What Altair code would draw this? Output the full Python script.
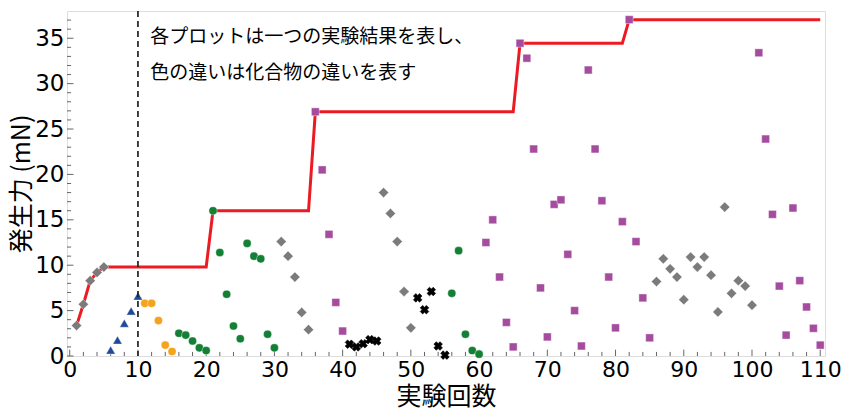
import altair as alt
import pandas as pd

# ---- data ----
gray_x = [1, 2, 3, 4, 5, 31, 32, 33, 34, 35, 46, 47, 48, 49, 50,
          86, 87, 88, 89, 90, 91, 92, 93, 94, 95, 96, 97, 98, 99, 100]
gray_y = [3.35, 5.7, 8.3, 9.2, 9.8, 12.6, 11.0, 8.7, 4.8, 2.9, 18.0, 15.7, 12.6, 7.1, 3.1,
          8.2, 10.7, 9.6, 8.7, 6.2, 10.9, 9.8, 10.9, 8.9, 4.85, 16.4, 6.9, 8.3, 7.7, 5.6]

blue_x = [6, 7, 8, 9, 10]
blue_y = [0.65, 1.75, 3.6, 4.95, 6.6]

orange_x = [11, 12, 13, 14, 15]
orange_y = [5.8, 5.8, 3.9, 1.2, 0.5]

green_x = [16, 17, 18, 19, 20, 21, 22, 23, 24, 25, 26, 27, 28, 29, 30,
           56, 57, 58, 59, 60]
green_y = [2.5, 2.3, 1.65, 0.9, 0.6, 16.0, 11.4, 6.8, 3.3, 1.9, 12.4, 11.0, 10.7, 2.4, 0.9,
           6.9, 11.6, 2.4, 0.6, 0.2]

purple_x = [36, 37, 38, 39, 40,
            61, 62, 63, 64, 65, 66, 67, 68, 69, 70, 71, 72, 73, 74, 75,
            76, 77, 78, 79, 80, 81, 82, 83, 84, 85,
            101, 102, 103, 104, 105, 106, 107, 108, 109, 110]
purple_y = [26.9, 20.5, 13.4, 5.9, 2.75,
            12.5, 15.0, 8.7, 3.7, 1.0, 34.45, 32.8, 22.8, 7.5, 2.1, 16.7, 17.2, 11.2, 5.0, 1.1,
            31.5, 22.8, 17.1, 8.7, 3.1, 14.8, 37.05, 12.6, 6.4, 2.0,
            33.4, 23.9, 15.6, 7.7, 2.3, 16.3, 8.3, 5.4, 3.05, 1.2]

black_x = [41, 42, 43, 44, 45, 51, 52, 53, 54, 55]
black_y = [1.3, 1.0, 1.35, 1.8, 1.65, 6.4, 5.1, 7.1, 1.1, 0.1]

divider_x = 10
note_lines = ["各プロットは一つの実験結果を表し、", "色の違いは化合物の違いを表す"]
note_x = [11.8, 11.8]
note_y = [35.1, 31.2]

x_ticks = list(range(0, 111, 2))
y_ticks = list(range(0, 38, 1))
x_labels = list(range(0, 111, 10))
y_labels = list(range(0, 36, 5))

XMIN, XMAX = -0.4, 110.7
YMIN, YMAX = 0, 38

# ---- tables ----
series = [
    ("gray", gray_x, gray_y, "#7b7b7b", "diamond", 105, 0),
    ("blue", blue_x, blue_y, "#1f4a9c", "triangle-up", 85, 0),
    ("orange", orange_x, orange_y, "#f5a31c", "circle", 66, 0),
    ("green", green_x, green_y, "#138036", "circle", 66, 0),
    ("purple", purple_x, purple_y, "#a54c9f", "square", 62, 0),
    ("black", black_x, black_y, "#000000", "cross", 75, 45),
]
rows = []
for name, xs_, ys_, *_ in series:
    for a, b in zip(xs_, ys_):
        rows.append({"x": a, "y": b, "series": name})
df = pd.DataFrame(rows)

xs = alt.Scale(domain=[XMIN, XMAX], nice=False, zero=False)
ys = alt.Scale(domain=[YMIN, YMAX], nice=False, zero=False)

label_font = "DejaVu Sans"
cjk_font = "Noto Sans CJK JP"

x_axis = alt.Axis(title="実験回数", values=x_labels, labelPadding=3, titlePadding=4,
                  labelFontSize=22)
y_axis = alt.Axis(title="発生力 (mN)", values=y_labels, labelPadding=3, titlePadding=0,
                  labelFontSize=23)


def X(field):
    return alt.X(field, scale=xs, axis=x_axis)


def Y(field):
    return alt.Y(field, scale=ys, axis=y_axis)


# inward ticks
xt = pd.DataFrame({"t": x_ticks})
xt["y0"] = 0.0
xt["y1"] = [0.7 if t % 10 == 0 else 0.45 for t in x_ticks]
yt = pd.DataFrame({"t": y_ticks})
yt["x0"] = XMIN
yt["x1"] = [XMIN + (0.95 if t % 5 == 0 else 0.6) for t in y_ticks]

xtick_layer = alt.Chart(xt).mark_rule(color="#666666", strokeWidth=1).encode(
    x=X("t:Q"), y=Y("y0:Q"), y2="y1:Q")
ytick_layer = alt.Chart(yt).mark_rule(color="#666666", strokeWidth=1).encode(
    y=Y("t:Q"), x=X("x0:Q"), x2="x1:Q")

# running maximum line
line_layer = alt.Chart(df).transform_window(
    run="max(y)", sort=[alt.SortField("x")], frame=[None, 0]
).mark_line(color="#ec1a22", strokeWidth=3).encode(
    x=X("x:Q"), y=Y("run:Q"), order="x:Q",
)

point_layers = []
for name, _, _, color, shape, size, ang in series:
    kw = dict(shape=shape, size=size, filled=True, color=color, opacity=1,
              stroke="white", strokeWidth=0.4)
    if ang:
        kw["angle"] = ang
        kw["stroke"] = color
        kw["strokeWidth"] = 0.6
    point_layers.append(
        alt.Chart(df).transform_filter(alt.datum.series == name).mark_point(**kw).encode(
            x=X("x:Q"), y=Y("y:Q"),
        )
    )

div_df = pd.DataFrame({"x": [divider_x]})
divider = alt.Chart(div_df).mark_rule(color="#222222", strokeWidth=1.7,
                                      strokeDash=[6, 4]).encode(x=X("x:Q"))

note_df = pd.DataFrame({"x": note_x, "y": note_y, "t": note_lines})
note = alt.Chart(note_df).mark_text(align="left", baseline="middle", font=cjk_font,
                                    fontSize=19, color="black").encode(
    x=X("x:Q"), y=Y("y:Q"), text="t:N")

chart = alt.layer(xtick_layer, ytick_layer, line_layer, *point_layers,
                  divider, note).properties(
    width=758, height=345,
    padding={"left": 59, "top": 3, "right": 16, "bottom": 54},
    autosize=alt.AutoSizeParams(type="none"),
).configure_view(stroke="#888888", strokeWidth=1.5).configure(
    background="white"
).configure_axis(
    ticks=False, domain=False, grid=False, labelFont=label_font,
    labelColor="black", titleFont=cjk_font, titleFontSize=25, titleFontWeight="normal",
    titleColor="black", labelFlush=False,
)

chart.save("out.html", embed_options={"renderer": "svg", "actions": False})
